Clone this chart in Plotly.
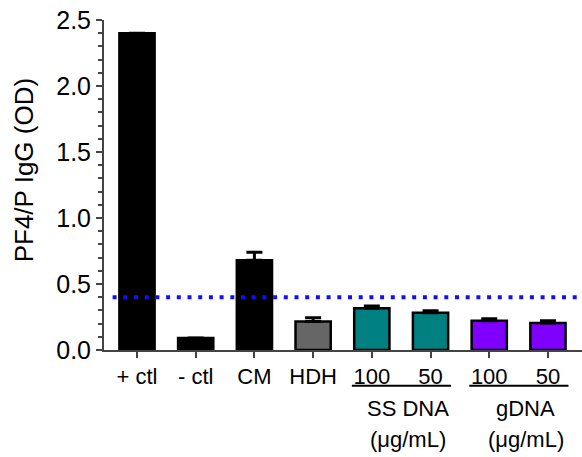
import plotly.graph_objects as go

categories = ["+ ctl", "- ctl", "CM", "HDH", "100", "50", "100", "50"]
values = [2.40, 0.09, 0.68, 0.215, 0.316, 0.283, 0.222, 0.205]
errors = [0.0, 0.0, 0.06, 0.03, 0.017, 0.015, 0.015, 0.017]
colors = ["#000000", "#000000", "#000000", "#666666", "#008080", "#008080", "#7f00ff", "#7f00ff"]
threshold = 0.40
groups = [
    {"name": "SS DNA", "unit": "(μg/mL)", "members": [4, 5]},
    {"name": "gDNA", "unit": "(μg/mL)", "members": [6, 7]},
]
y_ticks = [0.0, 0.5, 1.0, 1.5, 2.0, 2.5]
y_title = "PF4/P IgG (OD)"

FONT = "Liberation Sans, Arial, sans-serif"
xpos = list(range(len(categories)))

fig = go.Figure()
fig.add_trace(go.Bar(
    x=xpos, y=values, width=0.6,
    marker=dict(color=colors, line=dict(color="#000000", width=2.5)),
    error_y=dict(type="data", symmetric=False, array=errors,
                 arrayminus=[0] * len(errors), color="#000000",
                 thickness=3, width=8),
    showlegend=False,
))

fig.add_shape(type="line", xref="paper", yref="y", x0=0.018, x1=1, y0=threshold, y1=threshold,
              line=dict(color="#1010ff", width=4, dash="4px,6.7px"), layer="above")

for g in groups:
    lo, hi = min(g["members"]), max(g["members"])
    fig.add_shape(type="line", xref="x", yref="paper", x0=lo - 0.34, x1=hi + 0.35,
                  y0=-0.108, y1=-0.108, line=dict(color="#000000", width=2))
    cx = (lo + hi) / 2
    fig.add_annotation(x=cx, y=-0.178, xref="x", yref="paper", text=g["name"],
                       showarrow=False, xshift=7, yanchor="middle",
                       font=dict(family=FONT, size=22, color="#000000"))
    fig.add_annotation(x=cx, y=-0.272, xref="x", yref="paper", text=g["unit"],
                       showarrow=False, xshift=7, yanchor="middle",
                       font=dict(family=FONT, size=22, color="#000000"))

fig.add_annotation(x=-0.167, y=0.545, xref="paper", yref="paper", text=y_title,
                   textangle=-90, showarrow=False, xanchor="center", yanchor="middle",
                   font=dict(family=FONT, size=26, color="#000000"))

fig.update_layout(
    width=582, height=457,
    margin=dict(l=104, r=0, t=20, b=107),
    plot_bgcolor="white", paper_bgcolor="white",
    font=dict(family=FONT, color="#000000"),
    bargap=0.4,
)
fig.update_xaxes(
    range=[-0.562, 7.58], tickmode="array", tickvals=xpos, ticktext=categories,
    showline=True, linecolor="#444444", linewidth=2, ticks="outside", ticklen=6,
    tickwidth=1.5, tickcolor="#444444", showgrid=False, zeroline=False,
    tickfont=dict(family=FONT, size=22, color="#000000"),
)
fig.update_yaxes(
    range=[0, 2.5], tickmode="array", tickvals=y_ticks,
    ticktext=[f"{v:.1f}" for v in y_ticks],
    showline=True, linecolor="#444444", linewidth=2, ticks="outside", ticklen=6,
    tickwidth=1.5, tickcolor="#444444", showgrid=False, zeroline=False,
    tickfont=dict(family=FONT, size=25, color="#000000"),
    minor=dict(dtick=0.1, ticks="outside", ticklen=4, tickwidth=1.5, tickcolor="#444444", showgrid=False),
)

fig.write_html("out.html")
